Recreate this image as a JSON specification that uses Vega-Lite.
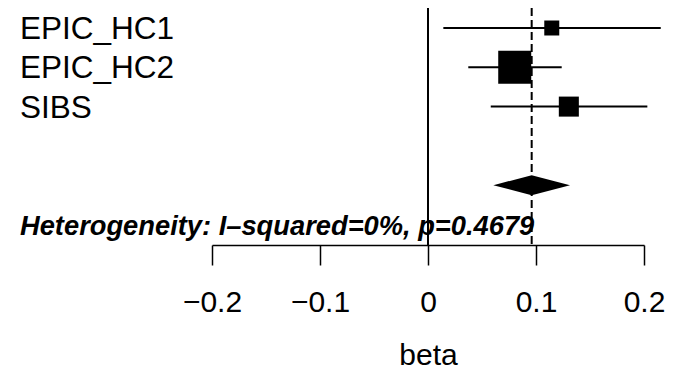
{
  "$schema": "https://vega.github.io/schema/vega-lite/v6.json",
  "width": 432,
  "height": 245,
  "autosize": {"type": "none"},
  "padding": {"left": 212, "top": 0, "right": 29, "bottom": 126},
  "background": "white",
  "config": {"view": {"stroke": null}, "font": "Liberation Sans"},
  "datasets": {
    "studies": [
      {"study": "EPIC_HC1", "row": 1, "beta": 0.1146, "lower": 0.0142, "upper": 0.2155, "weight": 13.1},
      {"study": "EPIC_HC2", "row": 2, "beta": 0.0803, "lower": 0.0373, "upper": 0.1238, "weight": 63.5},
      {"study": "SIBS", "row": 3, "beta": 0.1304, "lower": 0.0581, "upper": 0.2031, "weight": 23.4}
    ],
    "pooled": [
      {"beta": 0.0605, "ytop": 5, "ybot": 5},
      {"beta": 0.0960, "ytop": 4.7455, "ybot": 5.2545},
      {"beta": 0.1315, "ytop": 5, "ybot": 5}
    ],
    "summary": [
      {"beta": 0.0960, "het": "Heterogeneity: I–squared=0%, p=0.4679"}
    ]
  },
  "layer": [
    {
      "data": {"name": "studies"},
      "mark": {"type": "rule", "color": "black", "strokeWidth": 2},
      "encoding": {
        "x": {
          "field": "lower", "type": "quantitative",
          "scale": {"domain": [-0.2, 0.2], "nice": false, "zero": false},
          "axis": {
            "values": [-0.2, -0.1, 0, 0.1, 0.2],
            "format": ".1~f",
            "title": "beta",
            "grid": false,
            "domainColor": "black", "domainWidth": 1.5,
            "tickColor": "black", "tickWidth": 1.5, "tickSize": 20,
            "labelFont": "Liberation Sans", "labelFontSize": 30, "labelColor": "black",
            "labelPadding": 22, "labelFlush": false, "labelOverlap": false,
            "titleFont": "Liberation Sans", "titleFontSize": 30, "titleFontWeight": "normal",
            "titleColor": "black", "titleBaseline": "alphabetic", "titleY": 119
          }
        },
        "x2": {"field": "upper"},
        "y": {
          "field": "row", "type": "quantitative",
          "scale": {"domain": [0.2875, 6.5216], "reverse": true, "nice": false, "zero": false},
          "axis": null
        }
      }
    },
    {
      "data": {"values": [{"ref": 0}]},
      "mark": {"type": "rule", "color": "black", "strokeWidth": 2},
      "encoding": {
        "x": {"field": "ref", "type": "quantitative"},
        "y": {"datum": 0.491, "type": "quantitative", "axis": null},
        "y2": {"datum": 6.5216}
      }
    },
    {
      "data": {"name": "summary"},
      "mark": {"type": "rule", "color": "black", "strokeWidth": 2, "strokeDash": [8, 4]},
      "encoding": {
        "x": {"field": "beta", "type": "quantitative"},
        "y": {"datum": 0.491, "type": "quantitative", "axis": null},
        "y2": {"datum": 6.5216}
      }
    },
    {
      "data": {"name": "studies"},
      "mark": {"type": "point", "shape": "square", "filled": true, "color": "black", "opacity": 1, "strokeWidth": 0},
      "encoding": {
        "x": {"field": "beta", "type": "quantitative"},
        "y": {"field": "row", "type": "quantitative", "axis": null},
        "size": {"field": "weight", "type": "quantitative", "scale": {"type": "linear", "domain": [0, 100], "range": [0, 1715]}, "legend": null}
      }
    },
    {
      "data": {"name": "pooled"},
      "mark": {"type": "area", "color": "black", "opacity": 1},
      "encoding": {
        "x": {"field": "beta", "type": "quantitative"},
        "y": {"field": "ytop", "type": "quantitative", "axis": null},
        "y2": {"field": "ybot"}
      }
    },
    {
      "data": {"name": "studies"},
      "mark": {"type": "text", "align": "left", "baseline": "middle", "dy": 2, "fontSize": 31.5, "font": "Liberation Sans", "color": "black"},
      "encoding": {
        "x": {"datum": -0.3778, "type": "quantitative"},
        "y": {"field": "row", "type": "quantitative", "axis": null},
        "text": {"field": "study"}
      }
    },
    {
      "data": {"name": "summary"},
      "mark": {"type": "text", "align": "left", "baseline": "alphabetic", "fontSize": 27.3, "font": "Liberation Sans", "fontStyle": "italic", "fontWeight": "bold", "color": "black"},
      "encoding": {
        "x": {"datum": -0.3778, "type": "quantitative"},
        "y": {"datum": 6.267, "type": "quantitative", "axis": null},
        "text": {"field": "het"}
      }
    }
  ]
}
